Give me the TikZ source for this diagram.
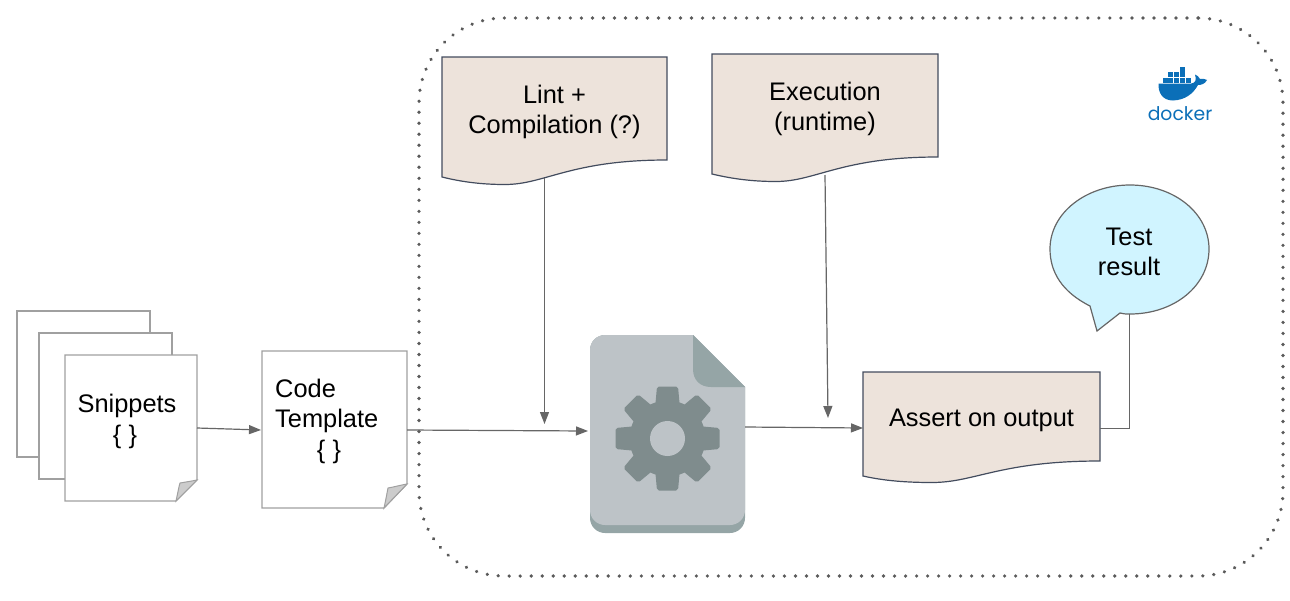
\documentclass[tikz,border=0pt]{standalone}
\usepackage{fontspec}
\setmainfont{Liberation Sans}
\newfontfamily\dockerfont{Poppins}
\usetikzlibrary{arrows.meta}
\definecolor{docfill}{HTML}{EDE3DB}
\definecolor{docline}{HTML}{434C5E}
\definecolor{conn}{HTML}{666666}
\definecolor{dotcol}{HTML}{5A5A5A}
\definecolor{paperline}{HTML}{A0A0A0}
\definecolor{foldfill}{HTML}{CCCCCC}
\definecolor{bubblefill}{HTML}{D0F4FF}
\definecolor{bodylight}{HTML}{BDC3C7}
\definecolor{bodydark}{HTML}{95A5A6}
\definecolor{geardark}{HTML}{7F8C8D}
\definecolor{dockerblue}{HTML}{0B6FB8}
\tikzset{
  label/.style={inner sep=0pt,font=\fontsize{25.4}{30}\selectfont,align=center,text=black},
  wavedoc/.style={draw=docline,fill=docfill,line width=1.2pt},
  paper/.style={draw=paperline,fill=white,line width=1.2pt},
  fold/.style={draw=paperline,fill=foldfill,line width=1pt},
  conn/.style={draw=conn,line width=1.2pt},
  arrowconn/.style={conn,-{Triangle[length=12pt,width=9pt,fill=conn]}}
}
\begin{document}
\begin{tikzpicture}[x=1pt,y=-1pt]
\useasboundingbox (0,0) rectangle (1290,600);
% container
\node[draw=dotcol,line width=3.6pt,line cap=round,rounded corners=85pt,dash pattern=on 0.01pt off 11pt,minimum width=864pt,minimum height=558pt,inner sep=0pt] (container) at (851,297) {};
% stacked snippets
\draw[paper] (17,311) rectangle (150,457);
\draw[paper] (39,333) rectangle (172,479);
\draw[paper] (65,355) -- (197,355) -- (197,480) -- (176,501) -- (65,501) -- cycle;
\draw[fold] (176,501) .. controls (178,492) and (179,486) .. (180,483) .. controls (186,482) and (192,481) .. (197,480) -- cycle;
\coordinate (snipE) at (197,428);
\node[label,anchor=base] (snippets) at (127,412) {Snippets};
\node[label,anchor=base] (snipbraces) at (125,443) {\{ \}};
% template
\draw[paper] (262,351) -- (407,351) -- (407,484) -- (384,508) -- (262,508) -- cycle;
\draw[fold] (384,508) .. controls (386,499) and (387,493) .. (388,488) .. controls (394,487) and (401,485) .. (407,484) -- cycle;
\coordinate (tmplW) at (261,430);
\coordinate (tmplE) at (407,430);
\node[label,anchor=base west] (code) at (275,397) {Code};
\node[label,anchor=base west] (template) at (275,427) {Template};
\node[label,anchor=base] (braces) at (329,458) {\{ \}};
% lint doc
\draw[wavedoc] (442,57) -- (667,57) -- (667,160) .. controls (570,160) and (545,184.5) .. (505,184.5) .. controls (482,184.5) and (462,182) .. (442,177) -- cycle;
\node[label] (lint) at (554.5,112) {Lint +\\Compilation (?)};
\coordinate (lintS) at (544.5,178);
% exec doc
\draw[wavedoc] (712,54) -- (938,54) -- (938,157) .. controls (841,157) and (816,181.5) .. (776,181.5) .. controls (753,181.5) and (733,179) .. (712,174) -- cycle;
\node[label] (exec) at (825,109) {Execution\\(runtime)};
\coordinate (execS) at (825,175);
% engine file
\fill[bodydark] (590,350) arc[start angle=180,end angle=270,radius=15] -- (693,335) -- (745,387) -- (745,518) arc[start angle=0,end angle=90,radius=15] -- (605,533) arc[start angle=90,end angle=180,radius=15] -- cycle;
\fill[bodylight] (590,350) arc[start angle=180,end angle=270,radius=15] -- (693,335) -- (745,387) -- (745,510) arc[start angle=0,end angle=90,radius=15] -- (605,525) arc[start angle=90,end angle=180,radius=15] -- cycle;
\fill[bodydark] (693,335) -- (745,387) -- (711,387) .. controls (700,387) and (693,380) .. (693,369) -- cycle;
\coordinate (gearC) at (667.5,438.5);
\foreach \a in {0,45,...,315}{
  \fill[geardark,rounded corners=2pt,shift={(gearC)},rotate=\a] (-12.5,30) -- (-10.5,52) -- (10.5,52) -- (12.5,30) -- cycle;
}
\fill[geardark] (gearC) circle[radius=38];
\fill[bodylight] (gearC) circle[radius=17.5];
\coordinate (engineW) at (588,431);
\coordinate (engineE) at (745,427);
% assert doc
\draw[wavedoc] (863,372) -- (1100,372) -- (1100,461) .. controls (1000,461) and (975,482.5) .. (932,482.5) .. controls (908,482.5) and (885,481) .. (863,476) -- cycle;
\node[label] (assert) at (981.5,420.5) {Assert on output};
\coordinate (assertW) at (863,428);
\coordinate (assertE) at (1100,428.5);
% bubble
\draw[conn,fill=bubblefill] (1090,306) .. controls (1062,292) and (1050,272) .. (1050,249) .. controls (1050,213) and (1086,185) .. (1130,185) .. controls (1174,185) and (1209,213) .. (1209,249) .. controls (1209,286) and (1174,314) .. (1130,314) .. controls (1126,314) and (1123,314) .. (1120,313) -- (1097,331) -- cycle;
\node[label] (result) at (1129,251.5) {Test\\result};
\coordinate (bubbleS) at (1129.5,314);
% free ends of vertical arrows
\coordinate (lintEnd) at (544.5,424);
\coordinate (execEnd) at (828,418);
% connectors
\draw[arrowconn] (snipE) -- (tmplW);
\draw[arrowconn] (tmplE) -- (engineW);
\draw[arrowconn] (engineE) -- (assertW);
\draw[arrowconn] (lintS) -- (lintEnd);
\draw[arrowconn] (execS) -- (execEnd);
\draw[conn] (assertE) -| (bubbleS);
% docker logo
\begin{scope}[dockerblue]
  \foreach \i in {0,...,4}{\fill (1162.6+\i*5.75,77.8) rectangle +(5,5);}
  \foreach \i in {1,2,3}{\fill (1162.6+\i*5.75,72.2) rectangle +(5,5);}
  \fill (1180,66.5) rectangle +(5,5);
  \fill (1158.5,83.5) -- (1191,83.5) .. controls (1195,83.5) and (1197,80) .. (1195,74.5) .. controls (1197,75) and (1199,77) .. (1200,79) .. controls (1203,78.5) and (1205,79) .. (1207,80) .. controls (1205,84) and (1201,85) .. (1198,85) .. controls (1193,94) and (1185,100) .. (1173,100.5) .. controls (1162,100.5) and (1158,92) .. (1158.5,83.5) -- cycle;
\end{scope}
\node[inner sep=0pt,anchor=base,text=dockerblue,font=\dockerfont\fontsize{18.8}{20}\selectfont] (docker) at (1180,120) {docker};
\end{tikzpicture}
\end{document}
